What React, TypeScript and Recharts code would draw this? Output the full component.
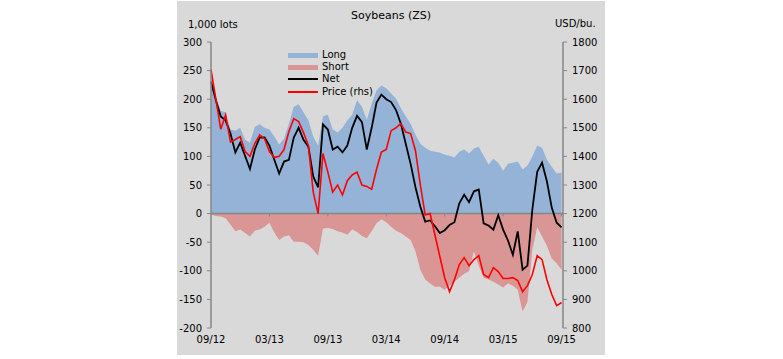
import { ComposedChart, Area, Line, XAxis, YAxis, ReferenceLine, Legend } from "recharts";

// semi-monthly readings, 09/2012 .. 09/2015
const longPos = [
  233, 203, 180, 177, 147, 145, 150, 129, 124, 152,
  156, 150, 147, 135, 121, 131, 157, 187, 191, 177,
  163, 135, 119, 170, 173, 147, 142, 150, 163, 173,
  198, 187, 164, 192, 215, 224, 219, 210, 201, 184,
  170, 157, 138, 122, 115, 110, 108, 107, 103, 101,
  98, 108, 112, 105, 114, 117, 101, 86, 96, 89,
  75, 87, 89, 91, 77, 84, 100, 119, 115, 94,
  82, 70, 72,
];

const shortPos = [
  -2, -4, -5, -8, -19, -31, -28, -34, -40, -30,
  -28, -23, -16, -33, -46, -40, -38, -49, -49, -50,
  -55, -63, -74, -26, -25, -27, -31, -33, -37, -28,
  -32, -39, -43, -31, -17, -10, -15, -23, -30, -34,
  -40, -46, -66, -98, -115, -122, -128, -128, -133, -126,
  -119, -112, -105, -101, -66, -91, -112, -115, -119, -124,
  -129, -122, -126, -133, -171, -154, -63, -24, -40, -56,
  -79, -87, -98,
];

const netPos = [
  231, 198, 170, 163, 140, 107, 124, 101, 78, 112,
  133, 133, 119, 94, 70, 91, 94, 133, 150, 129,
  117, 65, 46, 156, 147, 112, 117, 107, 119, 150,
  171, 160, 112, 150, 194, 208, 200, 195, 181, 157,
  122, 87, 46, 12, -14, -12, -22, -34, -29, -20,
  -15, 18, 33, 20, 39, 42, -17, -21, -28, -3,
  -28, -47, -72, -31, -98, -91, 7, 73, 89, 56,
  10, -16, -24,
];

const price = [
  1703, 1600, 1495, 1545, 1450, 1459, 1469, 1417, 1400, 1445,
  1475, 1462, 1417, 1396, 1400, 1424, 1487, 1532, 1522, 1483,
  1438, 1275, 1200, 1410, 1345, 1275, 1300, 1265, 1315, 1335,
  1345, 1300, 1295, 1285, 1355, 1415, 1424, 1490, 1500, 1515,
  1485, 1480, 1420, 1300, 1195, 1200, 1125, 1050, 976, 927,
  969, 1022, 1046, 1018, 1039, 1053, 987, 976, 1011, 997,
  973, 973, 976, 966, 927, 948, 987, 1053, 1039, 969,
  917, 878, 889,
];

const xTicks = [0, 12, 24, 36, 48, 60, 72];
const xLabels = ["09/12", "03/13", "09/13", "03/14", "09/14", "03/15", "09/15"];
const leftTicks = [-200, -150, -100, -50, 0, 50, 100, 150, 200, 250, 300];
const rightTicks = [800, 900, 1000, 1100, 1200, 1300, 1400, 1500, 1600, 1700, 1800];

const LONG = "#95b3d7";
const SHORT = "#d99694";
const NET = "#000000";
const PRICE = "#ff0000";
const AXIS = "#868686";
const FONT = "'DejaVu Sans', Verdana, sans-serif";

const data = longPos.map((v, i) => ({
  i,
  long: v,
  short: shortPos[i],
  net: netPos[i],
  price: price[i],
}));

const legendItems = [
  { name: "Long", color: LONG, h: 5 },
  { name: "Short", color: SHORT, h: 5 },
  { name: "Net", color: NET, h: 2 },
  { name: "Price (rhs)", color: PRICE, h: 2 },
];

function renderLegend() {
  return (
    <div style={{ fontFamily: FONT, fontSize: 10, color: "#000" }}>
      {legendItems.map((it) => (
        <div key={it.name} style={{ display: "flex", alignItems: "center", height: 12.2 }}>
          <div
            style={{
              width: 30,
              height: it.h,
              backgroundColor: it.color,
              marginRight: 4,
              flexShrink: 0,
            }}
          />
          <span style={{ lineHeight: "12px" }}>{it.name}</span>
        </div>
      ))}
    </div>
  );
}

const tickStyle = { fontSize: 10, fill: "#000", fontFamily: FONT };

export default function App() {
  return (
    <div
      style={{
        position: "absolute",
        left: 177,
        top: 1,
        width: 428,
        height: 354,
        background: "#d9d9d9",
        fontFamily: FONT,
      }}
    >
      <div style={{ position: "absolute", left: 0, width: 428, top: 8, textAlign: "center", fontSize: 11, lineHeight: "14px" }}>
        Soybeans (ZS)
      </div>
      <div style={{ position: "absolute", left: 11, top: 18, fontSize: 10, lineHeight: "12px" }}>1,000 lots</div>
      <div style={{ position: "absolute", left: 378, top: 17, fontSize: 10, lineHeight: "12px" }}>USD/bu.</div>
      <ComposedChart width={428} height={354} data={data} margin={{ top: 41, right: 0, bottom: 0, left: 0 }}>
        <XAxis
          dataKey="i"
          type="number"
          domain={[0, 72.3]}
          ticks={xTicks}
          tickFormatter={(v: number) => xLabels[xTicks.indexOf(v)]}
          axisLine={false}
          tickLine={false}
          tickSize={6}
          tick={tickStyle}
          height={27}
        />
        <YAxis
          yAxisId="left"
          domain={[-200, 300]}
          ticks={leftTicks}
          width={34}
          axisLine={{ stroke: AXIS, strokeWidth: 1.5 }}
          tickLine={{ stroke: AXIS }}
          tickSize={4}
          tickMargin={5}
          tick={tickStyle}
          allowDataOverflow
        />
        <YAxis
          yAxisId="right"
          orientation="right"
          domain={[800, 1800]}
          ticks={rightTicks}
          width={42}
          axisLine={{ stroke: AXIS, strokeWidth: 1.5 }}
          tickLine={{ stroke: AXIS }}
          tickSize={4}
          tickMargin={5}
          tick={tickStyle}
          allowDataOverflow
        />
        <Legend
          content={renderLegend}
          layout="vertical"
          align="center"
          verticalAlign="middle"
          wrapperStyle={{ position: "absolute", left: 111, top: 48, width: 120 }}
        />
        <Area
          yAxisId="left"
          type="linear"
          dataKey="long"
          name="Long"
          baseValue={0}
          stroke="none"
          fill={LONG}
          fillOpacity={1}
          isAnimationActive={false}
        />
        <Area
          yAxisId="left"
          type="linear"
          dataKey="short"
          name="Short"
          baseValue={0}
          stroke="none"
          fill={SHORT}
          fillOpacity={1}
          isAnimationActive={false}
        />
        <ReferenceLine yAxisId="left" y={0} stroke={AXIS} strokeWidth={1.5} />
        {xTicks.slice(1).map((t) => (
          <ReferenceLine
            key={t}
            yAxisId="left"
            segment={[{ x: t, y: 0 }, { x: t, y: -5 }]}
            stroke={AXIS}
          />
        ))}
        <Line
          yAxisId="left"
          type="linear"
          dataKey="net"
          name="Net"
          stroke={NET}
          strokeWidth={1.8}
          dot={false}
          isAnimationActive={false}
        />
        <Line
          yAxisId="right"
          type="linear"
          dataKey="price"
          name="Price (rhs)"
          stroke={PRICE}
          strokeWidth={1.6}
          dot={false}
          isAnimationActive={false}
        />
      </ComposedChart>
    </div>
  );
}
